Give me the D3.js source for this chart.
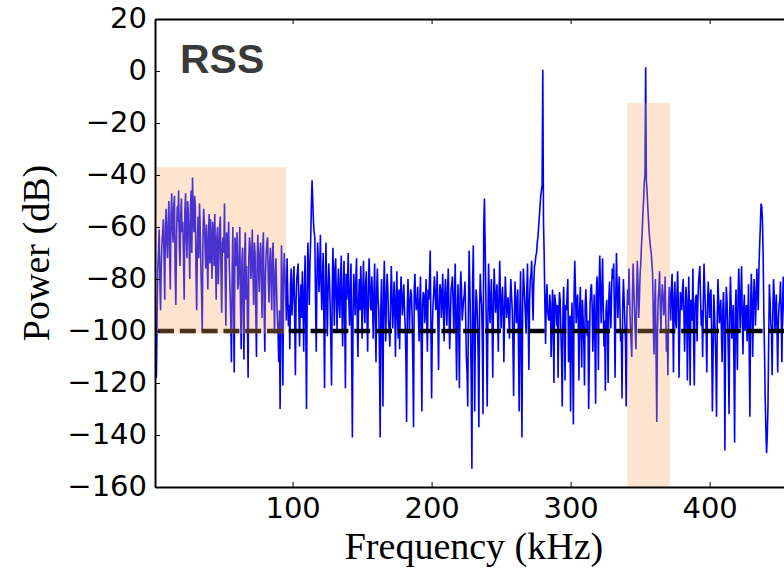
<!DOCTYPE html>
<html>
<head>
<meta charset="utf-8">
<script src="https://cdn.jsdelivr.net/npm/d3@7"></script>
<style>
body { margin: 0; background: #fff; }
</style>
</head>
<body>
<svg id="chart" width="784" height="568"></svg>
<script>
// spectrum at whole kHz, starting at 1 kHz
var power = [
    -90, -118, -76, -61, -92, -66, -57, -88, -53, -72,
    -50, -84, -47, -66, -48, -90, -52, -46, -75, -49,
    -58, -88, -47, -72, -55, -80, -46, -41, -62, -52,
    -92, -56, -51, -75, -100, -53, -68, -59, -84, -55,
    -57, -80, -62, -55, -88, -60, -72, -56, -93, -64,
    -51, -98, -66, -58, -85, -112, -60, -116, -70, -62,
    -82, -60, -107, -68, -111, -62, -75, -118, -64, -80,
    -61, -90, -70, -110, -63, -85, -66, -95, -62, -108,
    -70, -64, -89, -68, -92, -66, -101, -72, -95, -112,
    -130, -67, -121, -70, -88, -72, -98, -107, -76, -88,
    -75, -117, -80, -74, -106, -82, -77, -108, -71, -130,
    -66, -90, -65, -42, -58, -64, -108, -66, -85, -63,
    -92, -70, -122, -66, -102, -74, -90, -121, -68, -98,
    -72, -100, -76, -95, -71, -106, -73, -122, -88, -70,
    -98, -74, -141, -78, -94, -72, -110, -80, -75, -103,
    -73, -97, -77, -108, -72, -91, -79, -103, -74, -112,
    -76, -92, -141, -80, -129, -73, -104, -78, -96, -106,
    -75, -99, -81, -110, -77, -103, -107, -79, -94, -82,
    -98, -135, -80, -101, -84, -95, -137, -78, -92, -83,
    -104, -79, -131, -85, -97, -80, -108, -88, -69, -126,
    -90, -79, -92, -77, -115, -82, -95, -78, -104, -80,
    -98, -76, -107, -84, -79, -101, -74, -119, -82, -122,
    -77, -96, -88, -81, -110, -129, -69, -99, -153, -67,
    -131, -84, -96, -137, -78, -90, -132, -49, -85, -129,
    -74, -97, -80, -118, -76, -93, -82, -108, -73, -99,
    -83, -112, -79, -95, -87, -103, -80, -92, -125, -81,
    -97, -84, -131, -77, -141, -76, -88, -101, -74, -115,
    -80, -73, -96, -75, -71, -66, -60, -52, -46, 0.5,
    -71, -105, -82, -95, -86, -110, -84, -120, -88, -98,
    -118, -85, -100, -129, -83, -119, -92, -80, -104, -131,
    -89, -136, -73, -97, -86, -119, -83, -114, -95, -121,
    -84, -102, -130, -90, -82, -108, -86, -128, -79, -115,
    -71, -97, -72, -106, -123, -88, -120, -81, -99, -76,
    -74, -118, -70, -95, -79, -104, -126, -80, -96, -129,
    -84, -76, -98, -110, -74, -92, -107, -73, -95, -78,
    -67, -55, -43, 1.4, -46, -57, -65, -70, -78, -109,
    -80, -135, -88, -77, -100, -82, -94, -79, -108, -117,
    -83, -96, -78, -116, -81, -99, -77, -118, -85, -92,
    -80, -108, -83, -119, -79, -121, -90, -76, -121, -87,
    -104, -82, -75, -98, -110, -74, -92, -116, -81, -95,
    -84, -131, -86, -101, -133, -80, -97, -88, -112, -85,
    -146, -83, -96, -132, -79, -103, -90, -143, -84, -115,
    -76, -99, -75, -109, -86, -94, -104, -82, -133, -78,
    -110, -80, -98, -76, -92, -67, -51, -57, -92, -126,
    -147, -129, -82, -97, -117, -80, -100, -86, -116, -90,
    -81, -112, -79, -98, -86
]
// spectrum at the half kHz in between, starting at 1.5 kHz
var powerHalf = [
    -105, -95, -70, -80, -75, -62, -72, -60, -66, -58,
    -70, -56, -60, -52, -78, -64, -58, -68, -55, -62,
    -72, -54, -64, -50, -66, -52, -70, -56, -48, -78,
    -66, -72, -60, -86, -64, -58, -76, -70, -62, -74,
    -68, -58, -75, -70, -64, -82, -60, -78, -66, -70,
    -80, -62, -72, -76, -95, -78, -90, -64, -75, -84,
    -70, -90, -74, -92, -70, -88, -96, -72, -68, -74,
    -78, -66, -92, -72, -76, -70, -80, -68, -90, -78,
    -66, -80, -74, -82, -70, -86, -78, -84, -100, -92,
    -104, -82, -80, -78, -96, -85, -90, -82, -94, -80,
    -96, -88, -77, -92, -88, -95, -90, -84, -100, -85,
    -78, -74, -52, -50, -62, -88, -80, -74, -76, -82,
    -80, -96, -82, -88, -84, -80, -104, -86, -82, -76,
    -88, -84, -90, -80, -92, -84, -96, -78, -82, -90,
    -84, -110, -92, -86, -80, -96, -88, -92, -84, -86,
    -90, -82, -94, -86, -80, -92, -88, -86, -96, -84,
    -88, -110, -90, -104, -84, -92, -86, -84, -100, -88,
    -86, -92, -90, -88, -95, -84, -90, -86, -88, -92,
    -110, -92, -88, -90, -86, -112, -84, -88, -90, -94,
    -88, -104, -90, -86, -92, -96, -84, -80, -98, -100,
    -86, -84, -90, -96, -90, -84, -88, -92, -86, -90,
    -84, -92, -96, -82, -90, -86, -100, -92, -98, -86,
    -84, -92, -86, -94, -116, -90, -82, -120, -82, -100,
    -98, -88, -110, -92, -86, -104, -60, -66, -104, -96,
    -86, -88, -96, -90, -84, -88, -94, -86, -86, -90,
    -92, -94, -86, -90, -94, -88, -86, -104, -96, -88,
    -90, -106, -92, -112, -90, -82, -94, -84, -96, -88,
    -78, -86, -82, -74, -70, -64, -56, -48, -44, -58,
    -90, -88, -92, -96, -90, -100, -94, -86, -92, -90,
    -94, -88, -110, -92, -96, -90, -86, -112, -94, -100,
    -110, -86, -84, -90, -96, -92, -100, -88, -104, -90,
    -92, -96, -110, -84, -90, -96, -104, -86, -88, -82,
    -84, -86, -90, -96, -92, -98, -88, -92, -84, -80,
    -92, -88, -84, -86, -92, -100, -90, -88, -104, -96,
    -90, -88, -104, -86, -84, -100, -86, -82, -88, -74,
    -62, -50, -40, -42, -52, -62, -68, -74, -96, -90,
    -110, -100, -84, -90, -88, -86, -92, -96, -100, -90,
    -88, -84, -92, -88, -96, -86, -90, -100, -88, -84,
    -92, -96, -88, -100, -92, -88, -96, -104, -90, -86,
    -90, -78, -88, -92, -88, -84, -100, -90, -88, -86,
    -104, -110, -92, -112, -96, -88, -94, -100, -92, -96,
    -100, -88, -110, -92, -90, -96, -112, -92, -100, -86,
    -88, -86, -94, -92, -100, -90, -96, -108, -92, -88,
    -92, -86, -88, -84, -76, -60, -52, -70, -108, -138,
    -140, -104, -88, -100, -92, -86, -94, -100, -96, -88,
    -94, -90, -88, -92, -90
]
var freqStart = 1
var xTicks = [100, 200, 300, 400]
var yTicks = [20, 0, -20, -40, -60, -80, -100, -120, -140, -160]
// highlighted bands: [from kHz, to kHz, bottom dB, top dB]
var bands = [
    [2, 95.3, -101, -37],
    [340.7, 371.6, -160, -12.3]
]
var noiseFloor = -100
var panelLabel = "RSS"

var svg = d3.select('#chart')
var plotLeft = 155, plotRight = 793, plotTop = 19, plotBottom = 487

var xScale = d3.scaleLinear()
    .domain([1, 460])
    .range([plotLeft, plotRight])
var yScale = d3.scaleLinear()
    .domain([-160, 20])
    .range([plotBottom, plotTop])

svg.append('defs').append('clipPath')
    .attr('id', 'plotClip')
    .append('rect')
    .attr('x', plotLeft).attr('y', plotTop)
    .attr('width', plotRight - plotLeft).attr('height', plotBottom - plotTop)

var plot = svg.append('g').attr('clip-path', 'url(#plotClip)')

var points = []
for (i = 0; i < power.length; i++) {
    points.push([freqStart + i, power[i]])
    points.push([freqStart + i + 0.5, powerHalf[i]])
}
var lineGen = d3.line()
    .x((d) => xScale(d[0]))
    .y((d) => yScale(d[1]))

plot.append('path')
    .attr('d', lineGen(points))
    .attr('fill', 'none')
    .attr('stroke', '#0000ff')
    .attr('stroke-width', 1.6)

plot.append('line')
    .attr('x1', xScale(1)).attr('x2', xScale(460))
    .attr('y1', yScale(noiseFloor)).attr('y2', yScale(noiseFloor))
    .attr('stroke', '#000')
    .attr('stroke-width', 4.7)
    .attr('stroke-dasharray', '16,5.8')
    .attr('stroke-dashoffset', 18.8)

plot.selectAll('.band')
    .data(bands)
    .enter()
    .append('rect')
    .attr('class', 'band')
    .attr('x', (b) => xScale(b[0]))
    .attr('width', (b) => xScale(b[1]) - xScale(b[0]))
    .attr('y', (b) => yScale(b[3]))
    .attr('height', (b) => yScale(b[2]) - yScale(b[3]))
    .attr('fill', '#f4a460')
    .attr('fill-opacity', 0.3)

var tickFont = "'DejaVu Sans', sans-serif"

var yAxis = svg.append('g')
    .attr('transform', 'translate(' + plotLeft + ',0)')
    .call(d3.axisLeft(yScale).tickValues(yTicks).tickSizeInner(-5).tickSizeOuter(0).tickPadding(8))
svg.append('g')
    .attr('transform', 'translate(' + plotRight + ',0)')
    .call(d3.axisRight(yScale).tickValues(yTicks).tickSizeInner(-5).tickSizeOuter(0).tickFormat(''))
svg.append('g')
    .attr('transform', 'translate(0,' + plotBottom + ')')
    .call(d3.axisBottom(xScale).tickValues(xTicks).tickSizeInner(-5).tickSizeOuter(0).tickPadding(10))
svg.append('g')
    .attr('transform', 'translate(0,' + plotTop + ')')
    .call(d3.axisTop(xScale).tickValues(xTicks).tickSizeInner(-5).tickSizeOuter(0).tickFormat(''))

svg.selectAll('.domain')
    .attr('stroke', '#000')
    .attr('stroke-width', 2)
svg.selectAll('.tick line')
    .attr('stroke', '#000')
    .attr('stroke-width', 1)
svg.selectAll('.tick text')
    .attr('font-family', tickFont)
    .attr('font-size', 29)
    .attr('fill', '#000')
yAxis.selectAll('text').attr('dy', '0.3em')

svg.append('text')
    .attr('x', 180)
    .attr('y', 73)
    .attr('font-family', "'Liberation Sans', Arial, sans-serif")
    .attr('font-weight', 'bold')
    .attr('font-size', 41)
    .attr('fill', '#3a3a3a')
    .text(panelLabel)

svg.append('text')
    .attr('x', (plotLeft + plotRight) / 2)
    .attr('y', 559)
    .attr('text-anchor', 'middle')
    .attr('font-family', "'Liberation Serif', 'Times New Roman', serif")
    .attr('font-size', 38)
    .attr('fill', '#000')
    .text('Frequency (kHz)')

svg.append('text')
    .attr('transform', 'translate(49,' + ((plotTop + plotBottom) / 2) + ') rotate(-90)')
    .attr('text-anchor', 'middle')
    .attr('font-family', "'Liberation Serif', 'Times New Roman', serif")
    .attr('font-size', 38)
    .attr('fill', '#000')
    .text('Power (dB)')
</script>
</body>
</html>
